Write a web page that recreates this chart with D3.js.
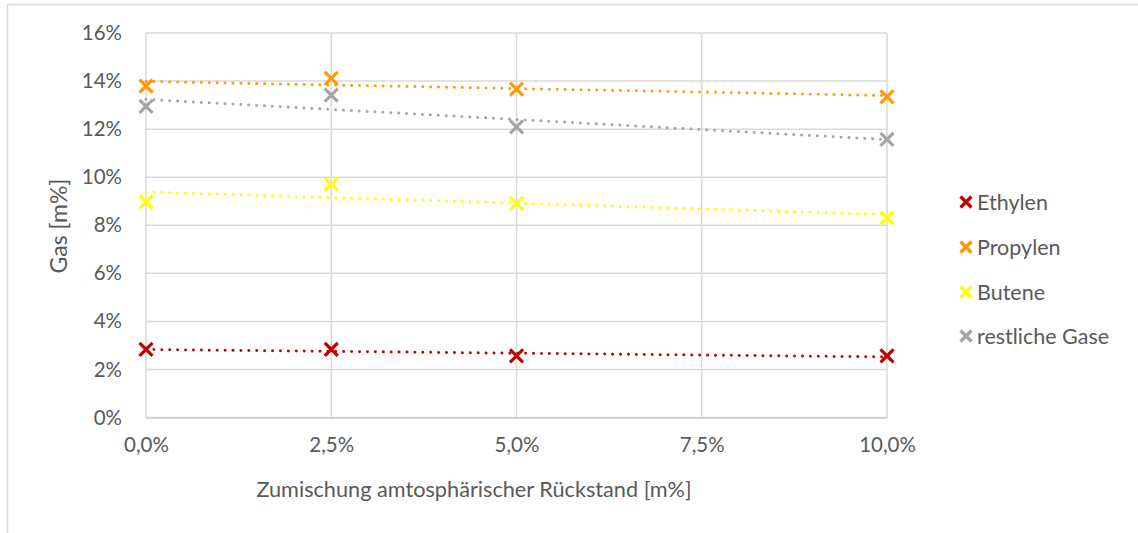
<!DOCTYPE html>
<html>
<head>
<meta charset="utf-8">
<script src="https://cdn.jsdelivr.net/npm/d3@7"></script>
<style>
  html, body { margin: 0; padding: 0; background: #fff; }
  svg { display: block; font-family: Lato, "Open Sans", sans-serif; }
</style>
</head>
<body>
<svg id="chart" width="1138" height="533"></svg>
<script>
// Zumischung (x) in % and gas yields in m%
const mixLevels = [0, 2.5, 5, 10];
const ethylen   = [2.83, 2.83, 2.56, 2.56];
const propylen  = [13.79, 14.11, 13.66, 13.34];
const butene    = [8.97, 9.71, 8.91, 8.31];
const restGase  = [12.95, 13.41, 12.09, 11.57];

const seriesNames  = ["Ethylen", "Propylen", "Butene", "restliche Gase"];
const seriesColors = ["#c00000", "#ff9a00", "#ffff00", "#a5a5a5"];
const xTicks = [0, 2.5, 5, 7.5, 10];
const yTicks = [0, 2, 4, 6, 8, 10, 12, 14, 16];

const series = [ethylen, propylen, butene, restGase].map((vals, i) => ({
  name: seriesNames[i], color: seriesColors[i], values: vals
}));

const svg = d3.select("#chart");
const textColor = "#595959";
const gridColor = "#d9d9d9";

// chart frame
svg.append("rect")
  .attr("x", 7.5).attr("y", 4.5)
  .attr("width", 1200).attr("height", 600)
  .attr("fill", "none").attr("stroke", gridColor).attr("stroke-width", 1.5);

const x = d3.scaleLinear().domain([0, 10]).range([146, 887]);
const y = d3.scaleLinear().domain([0, 16]).range([417.5, 33]);

const fmt = d => d3.format(".1f")(d).replace(".", ",") + "%";

// horizontal gridlines
svg.append("g").selectAll("line").data(yTicks).join("line")
  .attr("x1", x(0)).attr("x2", x(10))
  .attr("y1", d => y(d)).attr("y2", d => y(d))
  .attr("stroke", gridColor).attr("stroke-width", 1.5);

// vertical gridlines
svg.append("g").selectAll("line").data(xTicks).join("line")
  .attr("x1", d => x(d)).attr("x2", d => x(d))
  .attr("y1", y(0)).attr("y2", y(16))
  .attr("stroke", gridColor).attr("stroke-width", 1.5);

// y axis labels
const yAxis = d3.axisLeft(y).tickValues(yTicks).tickSize(0).tickPadding(24)
  .tickFormat(d => d + "%");
const gy = svg.append("g").attr("transform", `translate(${x(0)},0)`).call(yAxis);
gy.select(".domain").remove();
gy.selectAll("text").attr("fill", textColor).style("font-size", "20.5px")
  .style("font-family", "Lato, sans-serif");

// x axis labels
const xAxis = d3.axisBottom(x).tickValues(xTicks).tickSize(0).tickPadding(20)
  .tickFormat(fmt);
const gx = svg.append("g").attr("transform", `translate(0,${y(0)})`).call(xAxis);
gx.select(".domain").attr("stroke", "#d0d0d0").attr("stroke-width", 2);
gx.selectAll("text").attr("fill", textColor).style("font-size", "20.5px")
  .style("font-family", "Lato, sans-serif");

// axis titles
svg.append("text")
  .attr("x", 474).attr("y", 497)
  .attr("text-anchor", "middle")
  .attr("fill", textColor).style("font-size", "21.7px")
  .text("Zumischung amtosphärischer Rückstand [m%]");

svg.append("text")
  .attr("transform", "translate(67,226) rotate(-90)")
  .attr("text-anchor", "middle")
  .attr("fill", textColor).style("font-size", "23px")
  .text("Gas [m%]");

// linear trendlines (least squares)
function linFit(xs, ys) {
  const mx = d3.mean(xs), my = d3.mean(ys);
  let sxy = 0, sxx = 0;
  xs.forEach((xv, i) => { sxy += (xv - mx) * (ys[i] - my); sxx += (xv - mx) ** 2; });
  const b = sxy / sxx;
  return { a: my - b * mx, b };
}

const line = d3.line().x(d => x(d[0])).y(d => y(d[1]));
const gTrend = svg.append("g");
series.forEach(s => {
  const f = linFit(mixLevels, s.values);
  const ends = [0, 10].map(xv => [xv, f.a + f.b * xv]);
  gTrend.append("path")
    .attr("d", line(ends))
    .attr("fill", "none")
    .attr("stroke", s.color)
    .attr("stroke-width", 3)
    .attr("stroke-linecap", "round")
    .attr("stroke-dasharray", "0.01 7.9");
});

// x markers
function crossPath(cx, cy, r) {
  return `M${cx - r},${cy - r}L${cx + r},${cy + r}M${cx - r},${cy + r}L${cx + r},${cy - r}`;
}
const gMarks = svg.append("g");
series.forEach(s => {
  gMarks.selectAll(null).data(mixLevels.map((xv, i) => [xv, s.values[i]])).join("path")
    .attr("d", d => crossPath(x(d[0]), y(d[1]), 6.5))
    .attr("fill", "none")
    .attr("stroke", s.color)
    .attr("stroke-width", 3.2);
});

// legend
const legendY = [202, 247, 292, 336];
const gLeg = svg.append("g");
series.forEach((s, i) => {
  gLeg.append("path")
    .attr("d", crossPath(966, legendY[i], 5.5))
    .attr("fill", "none").attr("stroke", s.color).attr("stroke-width", 3.2);
  gLeg.append("text")
    .attr("x", 977).attr("y", legendY[i])
    .attr("dy", "0.35em")
    .attr("fill", textColor).style("font-size", "21.5px")
    .text(s.name);
});
</script>
</body>
</html>
